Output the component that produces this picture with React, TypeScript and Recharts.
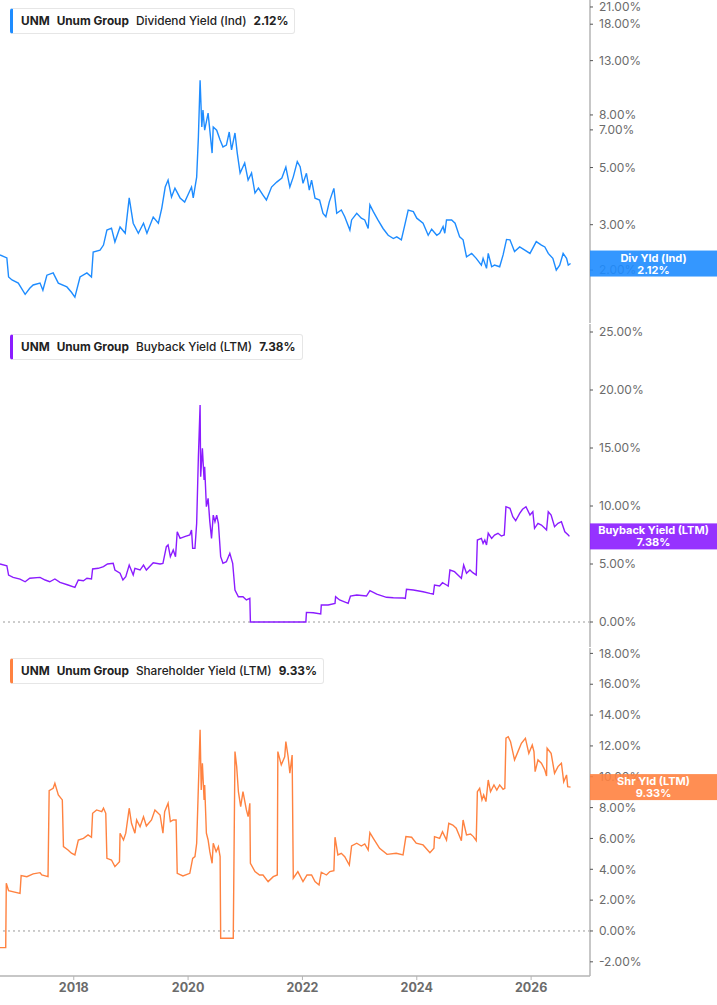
import React from "react";
import { LineChart, Line, XAxis, YAxis, ReferenceLine } from "recharts";

const AXIS = "#b4b4b4";
const SEP = "#d6d6d6";
const MUTED = "#6b6b6b";
const BLUE = "#1e8cff";
const PURPLE = "#8b1cff";
const ORANGE = "#ff8240";

const T_START = 2016.71;
const T_END = 2027.03;
const YEAR_TICKS = [2018, 2020, 2022, 2024, 2026];
const DIV_TICKS = [2, 3, 5, 7, 8, 13, 18, 21];
const BUYBACK_TICKS = [0, 5, 10, 15, 20, 25];
const SHR_TICKS = [-2, 0, 2, 4, 6, 8, 10, 12, 14, 16, 18];

// [decimal year, yield %]
const DIV_YIELD: [number, number][] = [
  [2016.71, 2.29], [2016.83, 2.23], [2016.86, 1.88], [2016.92, 1.83], [2017.03, 1.78],
  [2017.15, 1.61], [2017.23, 1.7], [2017.29, 1.75], [2017.41, 1.78], [2017.46, 1.67],
  [2017.53, 1.91], [2017.64, 1.95], [2017.73, 1.78], [2017.88, 1.72], [2017.96, 1.64],
  [2018.02, 1.57], [2018.11, 1.88], [2018.23, 1.95], [2018.31, 1.88], [2018.34, 2.35],
  [2018.46, 2.39], [2018.52, 2.5], [2018.58, 2.86], [2018.66, 2.91], [2018.72, 2.57],
  [2018.81, 2.94], [2018.9, 2.78], [2018.97, 3.81], [2019.04, 3.04], [2019.13, 2.78],
  [2019.22, 3.04], [2019.28, 2.78], [2019.39, 3.21], [2019.48, 3.04], [2019.54, 3.48],
  [2019.6, 4.2], [2019.65, 4.47], [2019.71, 3.84], [2019.77, 4.16], [2019.86, 3.81],
  [2019.94, 3.67], [2020.06, 4.2], [2020.09, 3.81], [2020.15, 4.59], [2020.18, 6.56],
  [2020.21, 10.9], [2020.24, 7.18], [2020.26, 8.36], [2020.29, 6.98], [2020.35, 8.13],
  [2020.42, 5.69], [2020.44, 7.18], [2020.5, 6.98], [2020.56, 6.4], [2020.61, 6.01],
  [2020.67, 6.11], [2020.72, 6.87], [2020.76, 5.85], [2020.82, 6.81], [2020.86, 5.69],
  [2020.91, 4.76], [2020.99, 5.21], [2021.05, 4.47], [2021.11, 4.76], [2021.17, 3.98],
  [2021.23, 4.16], [2021.31, 3.91], [2021.37, 3.74], [2021.46, 4.2], [2021.55, 4.39],
  [2021.64, 4.55], [2021.71, 5.02], [2021.78, 4.2], [2021.84, 4.6], [2021.91, 5.27],
  [2021.96, 5.04], [2022.01, 4.34], [2022.07, 4.75], [2022.12, 4.09], [2022.16, 4.47],
  [2022.22, 3.8], [2022.3, 3.74], [2022.36, 3.32], [2022.41, 3.22], [2022.47, 3.68],
  [2022.55, 4.15], [2022.6, 3.32], [2022.68, 3.42], [2022.74, 3.22], [2022.83, 2.86],
  [2022.86, 3.13], [2022.95, 3.32], [2023.03, 3.18], [2023.09, 3.13], [2023.15, 2.9],
  [2023.18, 3.58], [2023.24, 3.37], [2023.32, 3.13], [2023.41, 2.9], [2023.5, 2.73],
  [2023.59, 2.65], [2023.65, 2.69], [2023.73, 2.62], [2023.79, 2.99], [2023.85, 3.42],
  [2023.94, 3.37], [2024.0, 3.18], [2024.11, 3.04], [2024.2, 2.73], [2024.26, 2.88],
  [2024.35, 2.73], [2024.4, 2.78], [2024.46, 2.95], [2024.49, 2.78], [2024.52, 3.13],
  [2024.61, 3.13], [2024.67, 3.04], [2024.75, 2.69], [2024.81, 2.62], [2024.87, 2.25],
  [2024.96, 2.32], [2025.04, 2.22], [2025.13, 2.09], [2025.16, 2.22], [2025.22, 2.03],
  [2025.25, 2.32], [2025.31, 2.06], [2025.36, 2.09], [2025.45, 2.06], [2025.51, 2.29],
  [2025.57, 2.63], [2025.63, 2.62], [2025.71, 2.36], [2025.8, 2.46], [2025.89, 2.39],
  [2025.98, 2.32], [2026.09, 2.58], [2026.18, 2.5], [2026.24, 2.46], [2026.3, 2.32],
  [2026.38, 2.22], [2026.44, 2.0], [2026.5, 2.09], [2026.56, 2.32], [2026.62, 2.22],
  [2026.65, 2.09], [2026.69, 2.12],
];

const BUYBACK_YIELD: [number, number][] = [
  [2016.71, 5.0], [2016.83, 4.85], [2016.86, 4.05], [2016.94, 3.85], [2017.06, 3.7],
  [2017.15, 3.47], [2017.23, 3.77], [2017.41, 3.85], [2017.5, 3.62], [2017.58, 3.47],
  [2017.67, 3.71], [2017.76, 3.42], [2017.9, 3.19], [2018.02, 2.99], [2018.08, 3.62],
  [2018.17, 3.56], [2018.23, 3.77], [2018.31, 3.71], [2018.33, 4.57], [2018.43, 4.63],
  [2018.52, 4.77], [2018.59, 5.0], [2018.69, 5.06], [2018.72, 4.48], [2018.81, 4.2],
  [2018.86, 3.62], [2018.91, 3.91], [2018.97, 4.91], [2019.04, 4.05], [2019.07, 4.63],
  [2019.16, 4.48], [2019.22, 4.91], [2019.27, 4.48], [2019.39, 5.11], [2019.51, 5.0],
  [2019.56, 5.06], [2019.62, 6.49], [2019.65, 6.64], [2019.69, 5.63], [2019.74, 6.21],
  [2019.78, 5.63], [2019.81, 7.78], [2019.86, 7.21], [2019.94, 7.36], [2020.03, 7.5],
  [2020.06, 7.93], [2020.08, 6.35], [2020.12, 6.35], [2020.15, 8.51], [2020.18, 14.25],
  [2020.19, 15.69], [2020.21, 18.7], [2020.22, 12.53], [2020.25, 14.97], [2020.28, 12.24],
  [2020.29, 13.39], [2020.32, 9.94], [2020.35, 10.66], [2020.38, 8.65], [2020.41, 7.21],
  [2020.44, 9.22], [2020.47, 8.65], [2020.5, 9.22], [2020.53, 8.51], [2020.57, 5.63],
  [2020.61, 5.06], [2020.67, 5.2], [2020.73, 5.92], [2020.78, 5.06], [2020.82, 2.76],
  [2020.88, 2.18], [2020.96, 2.18], [2021.02, 1.9], [2021.08, 2.04], [2021.09, 0],
  [2022.06, 0], [2022.07, 0.83], [2022.19, 0.8], [2022.32, 0.69], [2022.33, 1.47],
  [2022.45, 1.47], [2022.57, 1.61], [2022.58, 2.18], [2022.65, 1.9], [2022.8, 1.61],
  [2022.84, 2.24], [2022.95, 2.33], [2023.12, 2.24], [2023.18, 2.7], [2023.3, 2.41],
  [2023.47, 2.13], [2023.59, 2.09], [2023.76, 2.07], [2023.8, 2.04], [2023.82, 2.82],
  [2023.94, 2.76], [2024.11, 2.61], [2024.23, 2.47], [2024.29, 2.41], [2024.31, 3.19],
  [2024.4, 3.1], [2024.45, 3.39], [2024.52, 3.19], [2024.55, 3.1], [2024.58, 4.48],
  [2024.66, 4.34], [2024.72, 4.05], [2024.78, 3.77], [2024.82, 4.91], [2024.87, 4.2],
  [2024.93, 4.48], [2024.98, 4.25], [2025.04, 4.05], [2025.06, 7.07], [2025.13, 7.21],
  [2025.16, 6.78], [2025.19, 7.07], [2025.22, 6.64], [2025.25, 7.65], [2025.31, 7.21],
  [2025.36, 7.5], [2025.42, 7.65], [2025.48, 7.41], [2025.53, 7.5], [2025.56, 9.94],
  [2025.63, 9.8], [2025.68, 9.08], [2025.73, 8.73], [2025.8, 9.37], [2025.85, 9.72],
  [2025.91, 9.94], [2025.98, 9.22], [2026.03, 9.51], [2026.06, 8.08], [2026.12, 8.51],
  [2026.18, 8.36], [2026.24, 8.08], [2026.27, 7.93], [2026.3, 9.51], [2026.35, 9.22],
  [2026.41, 8.22], [2026.47, 8.51], [2026.53, 8.65], [2026.59, 7.78], [2026.65, 7.5],
  [2026.67, 7.38],
];

const SHAREHOLDER_YIELD: [number, number][] = [
  [2016.71, -1.08], [2016.81, -1.08], [2016.82, 3.09], [2016.86, 2.61], [2017.06, 2.44],
  [2017.08, 3.59], [2017.18, 3.52], [2017.29, 3.7], [2017.41, 3.78], [2017.44, 3.63],
  [2017.55, 3.52], [2017.57, 9.1], [2017.64, 9.25], [2017.67, 9.58], [2017.73, 8.82],
  [2017.8, 8.5], [2017.82, 5.47], [2017.9, 5.25], [2017.96, 5.04], [2018.02, 4.93],
  [2018.08, 5.9], [2018.17, 6.01], [2018.25, 6.23], [2018.31, 6.08], [2018.33, 7.63],
  [2018.4, 7.85], [2018.49, 7.74], [2018.52, 7.96], [2018.56, 7.63], [2018.58, 4.71],
  [2018.66, 4.6], [2018.72, 4.17], [2018.8, 4.49], [2018.81, 6.34], [2018.87, 5.9],
  [2018.91, 6.34], [2018.97, 7.96], [2019.01, 6.98], [2019.07, 6.34], [2019.1, 7.2],
  [2019.16, 6.76], [2019.22, 7.41], [2019.27, 6.81], [2019.36, 7.2], [2019.42, 7.85],
  [2019.51, 7.52], [2019.56, 6.34], [2019.59, 7.74], [2019.65, 8.28], [2019.69, 7.09],
  [2019.74, 7.2], [2019.79, 7.2], [2019.81, 3.74], [2019.91, 3.57], [2020.03, 3.74],
  [2020.08, 4.71], [2020.12, 4.82], [2020.15, 5.69], [2020.18, 9.36], [2020.21, 13.04],
  [2020.23, 9.14], [2020.25, 10.88], [2020.28, 8.5], [2020.29, 9.47], [2020.32, 6.34],
  [2020.35, 5.9], [2020.38, 5.14], [2020.42, 4.39], [2020.44, 5.69], [2020.49, 5.14],
  [2020.53, 5.47], [2020.56, 4.82], [2020.57, -0.47], [2020.79, -0.47], [2020.82, 11.63],
  [2020.85, 10.66], [2020.88, 9.03], [2020.92, 8.06], [2020.96, 9.03], [2021.02, 7.85],
  [2021.05, 7.41], [2021.08, 8.28], [2021.09, 4.39], [2021.17, 3.85], [2021.25, 3.63],
  [2021.31, 3.63], [2021.4, 3.2], [2021.49, 3.52], [2021.56, 3.63], [2021.57, 11.63],
  [2021.63, 10.77], [2021.69, 11.3], [2021.71, 12.28], [2021.75, 11.3], [2021.78, 10.23],
  [2021.82, 11.41], [2021.84, 3.42], [2021.92, 3.85], [2022.01, 3.2], [2022.08, 3.63],
  [2022.16, 3.63], [2022.22, 3.2], [2022.29, 2.98], [2022.33, 3.81], [2022.42, 3.63],
  [2022.48, 3.85], [2022.55, 3.91], [2022.57, 6.08], [2022.62, 4.93], [2022.68, 5.04],
  [2022.74, 4.82], [2022.82, 4.28], [2022.86, 5.51], [2022.95, 5.69], [2023.03, 5.51],
  [2023.09, 5.64], [2023.15, 5.25], [2023.18, 6.37], [2023.24, 6.01], [2023.35, 5.36],
  [2023.48, 4.97], [2023.64, 5.04], [2023.76, 4.93], [2023.81, 6.12], [2023.91, 6.08],
  [2023.99, 5.69], [2024.11, 5.58], [2024.23, 5.08], [2024.3, 5.36], [2024.31, 6.12],
  [2024.4, 6.01], [2024.45, 6.44], [2024.52, 5.9], [2024.56, 6.98], [2024.63, 6.87],
  [2024.69, 6.66], [2024.75, 6.12], [2024.78, 5.86], [2024.81, 7.2], [2024.87, 6.23],
  [2024.94, 6.29], [2024.99, 6.12], [2025.04, 5.86], [2025.06, 9.03], [2025.1, 9.25],
  [2025.14, 8.5], [2025.17, 8.82], [2025.21, 8.39], [2025.25, 9.79], [2025.29, 9.03],
  [2025.35, 9.47], [2025.4, 9.14], [2025.45, 9.47], [2025.51, 9.19], [2025.54, 9.25],
  [2025.56, 12.5], [2025.6, 12.6], [2025.64, 12.28], [2025.71, 11.09], [2025.77, 11.63],
  [2025.83, 12.17], [2025.9, 12.5], [2025.96, 11.52], [2026.02, 12.06], [2026.05, 11.63],
  [2026.07, 10.33], [2026.12, 11.09], [2026.18, 10.88], [2026.24, 10.44], [2026.27, 10.05],
  [2026.28, 11.85], [2026.35, 11.52], [2026.41, 10.23], [2026.47, 10.66], [2026.53, 10.88],
  [2026.57, 9.68], [2026.62, 10.12], [2026.64, 9.36], [2026.69, 9.33],
];

const toRows = (pts: [number, number][]) => pts.map(([t, v]) => ({ t, v }));
const pct = (v: number) => `${v.toFixed(2)}%`;

const W = 717;
const AXIS_W = 127;

function Tag({ viewBox, color, name, value }: any) {
  if (!viewBox) return null;
  const left = viewBox.x + viewBox.width;
  const cx = left + AXIS_W / 2;
  return (
    <g>
      <rect x={left} y={viewBox.y - 13} width={AXIS_W} height={26} fill={color} fillOpacity={0.9} />
      <text x={cx} y={viewBox.y - 2} textAnchor="middle" fill="#fff" fontSize={11} fontWeight={700}>
        {name}
      </text>
      <text x={cx} y={viewBox.y + 10} textAnchor="middle" fill="#fff" fontSize={11} fontWeight={700}>
        {pct(value)}
      </text>
    </g>
  );
}

type PanelProps = {
  data: [number, number][];
  color: string;
  height: number;
  domain: [number, number];
  ticks: number[];
  log?: boolean;
  zero?: boolean;
  bottomAxis?: boolean;
  last: number;
  tagName: string;
};

function Frame({ data, height, domain, ticks, log, bottomAxis, bare, children }: PanelProps & { bare?: boolean; children?: React.ReactNode }) {
  return (
    <LineChart width={W} height={height} data={toRows(data)} margin={{ top: 0, right: 0, left: 0, bottom: bottomAxis ? 0 : 1 }}>
      <XAxis
        type="number"
        dataKey="t"
        domain={[T_START, T_END]}
        allowDataOverflow
        ticks={YEAR_TICKS}
        height={bottomAxis ? 29 : 0}
        tick={bottomAxis && !bare ? { fill: MUTED, fontSize: 12.5, fontWeight: 700 } : false}
        tickLine={bottomAxis && !bare ? { stroke: AXIS } : false}
        tickSize={4}
        tickMargin={3}
        axisLine={bare ? false : { stroke: bottomAxis ? AXIS : SEP, strokeWidth: bottomAxis ? 1.5 : 1 }}
      />
      <YAxis
        orientation="right"
        width={AXIS_W}
        scale={log ? "log" : "linear"}
        type="number"
        domain={domain}
        allowDataOverflow
        ticks={ticks}
        interval={0}
        tickFormatter={pct}
        tick={bare ? false : { fill: MUTED, fontSize: 12 }}
        tickLine={bare ? false : { stroke: "#555" }}
        tickSize={3}
        tickMargin={6}
        axisLine={bare ? false : { stroke: AXIS, strokeWidth: 1.5 }}
      />
      {children}
    </LineChart>
  );
}

function Panel(props: PanelProps) {
  const { color, zero, last, tagName } = props;
  return (
    <div style={{ position: "relative", width: W, height: props.height }}>
      <div style={{ position: "absolute", left: 0, top: 0 }}>
        <Frame {...props}>
          {zero && <ReferenceLine y={0} stroke="#9a9a9a" strokeDasharray="2 3" />}
          <Line type="linear" dataKey="v" stroke={color} strokeWidth={1.4} dot={false} activeDot={false} isAnimationActive={false} />
        </Frame>
      </div>
      {/* the latest-value tag sits on its own layer, above the tick labels */}
      <div style={{ position: "absolute", left: 0, top: 0, pointerEvents: "none" }}>
        <Frame {...props} bare>
          <ReferenceLine
            y={last}
            stroke="none"
            label={(p: any) => <Tag viewBox={p.viewBox} color={color} name={tagName} value={last} />}
          />
        </Frame>
      </div>
    </div>
  );
}

function Legend({ top, color, metric, value }: { top: number; color: string; metric: string; value: number }) {
  return (
    <div
      style={{
        position: "absolute",
        left: 10,
        top,
        height: 24,
        display: "flex",
        alignItems: "center",
        gap: 7,
        padding: "0 6px 0 8px",
        background: "#fff",
        border: "1px solid #e6e6e6",
        borderLeft: `3px solid ${color}`,
        borderRadius: 3,
        fontSize: 11.8,
        color: "#222",
        whiteSpace: "nowrap",
      }}
    >
      <b>UNM</b>
      <b>Unum Group</b>
      <span style={{ fontWeight: 500 }}>{metric}</span>
      <b>{pct(value)}</b>
    </div>
  );
}

export default function App() {
  return (
    <div style={{ position: "relative", width: W, height: 1005, fontFamily: "Inter, 'Noto Sans', sans-serif", background: "#fff" }}>
      <style>{"body{margin:0} .recharts-surface{overflow:visible}"}</style>
      <div style={{ position: "absolute", left: 0, top: 0 }}>
        <Panel data={DIV_YIELD} color={BLUE} height={324} domain={[1.246, 22.35]} ticks={DIV_TICKS} log last={2.12} tagName="Div Yld (Ind)" />
      </div>
      <div style={{ position: "absolute", left: 0, top: 324 }}>
        <Panel data={BUYBACK_YIELD} color={PURPLE} height={324} domain={[-2.155, 25.69]} ticks={BUYBACK_TICKS} zero last={7.38} tagName="Buyback Yield (LTM)" />
      </div>
      <div style={{ position: "absolute", left: 0, top: 648 }}>
        <Panel data={SHAREHOLDER_YIELD} color={ORANGE} height={357} domain={[-2.92, 18.35]} ticks={SHR_TICKS} zero bottomAxis last={9.33} tagName="Shr Yld (LTM)" />
      </div>
      <Legend top={8} color={BLUE} metric="Dividend Yield (Ind)" value={2.12} />
      <Legend top={334} color={PURPLE} metric="Buyback Yield (LTM)" value={7.38} />
      <Legend top={658} color={ORANGE} metric="Shareholder Yield (LTM)" value={9.33} />
    </div>
  );
}
